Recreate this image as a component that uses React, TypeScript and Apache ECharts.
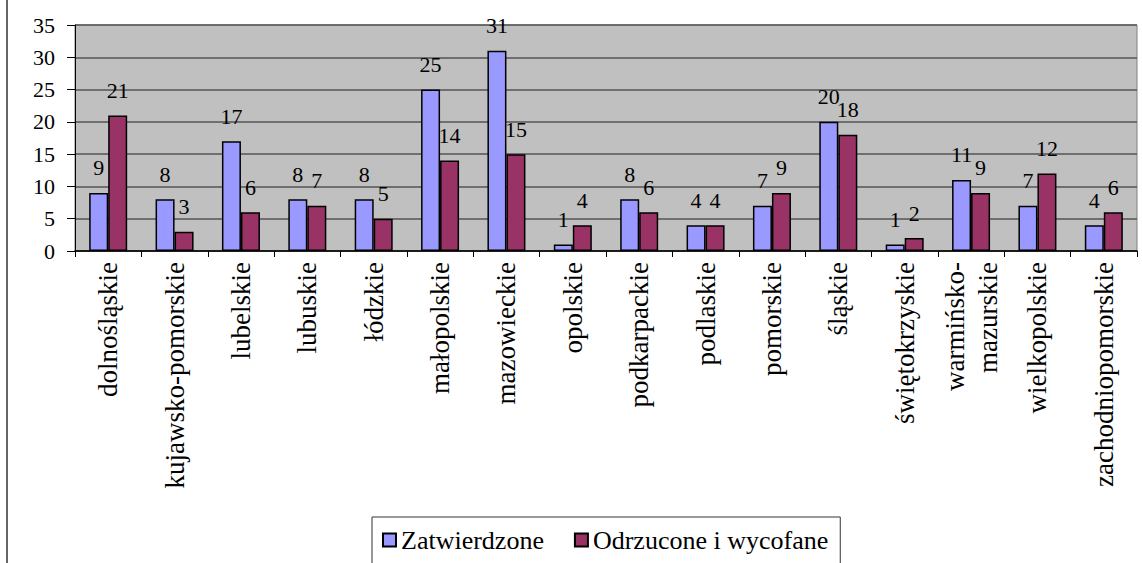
import React, { useEffect, useRef } from "react";
import * as echarts from "echarts";

const categories = [
  "dolnośląskie",
  "kujawsko-pomorskie",
  "lubelskie",
  "lubuskie",
  "łódzkie",
  "małopolskie",
  "mazowieckie",
  "opolskie",
  "podkarpackie",
  "podlaskie",
  "pomorskie",
  "śląskie",
  "świętokrzyskie",
  "warmińsko-\nmazurskie",
  "wielkopolskie",
  "zachodniopomorskie",
];
const zatwierdzone = [9, 8, 17, 8, 8, 25, 31, 1, 8, 4, 7, 20, 1, 11, 7, 4];
const odrzucone = [21, 3, 6, 7, 5, 14, 15, 4, 6, 4, 9, 18, 2, 9, 12, 6];
const seriesNames = ["Zatwierdzone", "Odrzucone i wycofane"];

const FONT = "Liberation Serif";

export default function App() {
  const ref = useRef<HTMLDivElement>(null);
  useEffect(() => {
    if (!ref.current) return;
    const chart = echarts.init(ref.current, null, { renderer: "svg" });
    const valueLabel = {
      show: true,
      position: "top" as const,
      distance: 14,
      color: "#000",
      fontFamily: FONT,
      fontSize: 22,
    };
    chart.setOption({
      animation: false,
      backgroundColor: "#ffffff",
      textStyle: { fontFamily: FONT },
      grid: {
        left: 75,
        right: 5,
        top: 25,
        bottom: 312,
        show: true,
        backgroundColor: "#C0C0C0",
        borderColor: "#808080",
        borderWidth: 1,
      },
      legend: {
        data: seriesNames,
        left: 372,
        top: 517,
        padding: [10, 12, 20, 10],
        borderColor: "#333",
        borderWidth: 1,
        itemGap: 30,
        itemWidth: 13,
        itemHeight: 13,
        icon: "rect",
        textStyle: { fontFamily: FONT, fontSize: 26, color: "#000" },
      },
      xAxis: {
        type: "category",
        data: categories,
        axisLine: { lineStyle: { color: "#000", width: 1.5 } },
        axisTick: { show: true, length: 6, lineStyle: { color: "#000" } },
        axisLabel: {
          rotate: 90,
          margin: 11,
          interval: 0,
          color: "#000",
          fontFamily: FONT,
          fontSize: 27,
          lineHeight: 33,
        },
      },
      yAxis: {
        type: "value",
        min: 0,
        max: 35,
        interval: 5,
        axisLine: { show: true, lineStyle: { color: "#000" } },
        axisTick: { show: true, length: 8, lineStyle: { color: "#000" } },
        axisLabel: {
          margin: 20,
          color: "#000",
          fontFamily: FONT,
          fontSize: 22,
        },
        splitLine: { show: true, lineStyle: { color: "#555", width: 1.5 } },
      },
      series: [
        {
          name: seriesNames[0],
          type: "bar",
          data: zatwierdzone,
          barWidth: 19,
          barGap: "0%",
          itemStyle: { color: "#9999FF", borderColor: "#000", borderWidth: 1.5 },
          label: valueLabel,
        },
        {
          name: seriesNames[1],
          type: "bar",
          data: odrzucone,
          barWidth: 19,
          barGap: "0%",
          itemStyle: { color: "#993366", borderColor: "#000", borderWidth: 1.5 },
          label: valueLabel,
        },
      ],
      graphic: [
        {
          type: "line",
          shape: { x1: 7, y1: 0, x2: 7, y2: 563 },
          style: { stroke: "#333", lineWidth: 1.5 },
        },
      ],
    });
    return () => chart.dispose();
  }, []);
  return (
    <>
      <style>{`#root svg text, #root svg tspan { font-family: 'Liberation Serif', 'Times New Roman', serif !important; }`}</style>
      <div
        ref={ref}
        style={{ position: "fixed", left: 0, top: 0, width: 1142, height: 563 }}
      />
    </>
  );
}
